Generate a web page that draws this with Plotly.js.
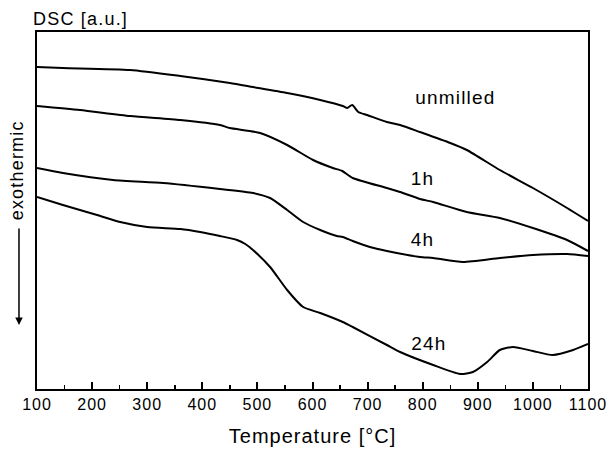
<!DOCTYPE html>
<html><head><meta charset="utf-8">
<script src="https://cdn.plot.ly/plotly-3.0.1.min.js"></script>
<style>body{margin:0;background:#fff}#c{width:610px;height:450px}
#c svg text{letter-spacing:1px}
#c .annotation-text{letter-spacing:1.2px}
</style>
</head><body><div id="c"></div>
<script>
// Temperature [°C] and DSC signal [a.u.]
var unmilledT = [100,147,269,360,450,492,554,614,655,663,672,683,699,735,759,795,850,880,940,1000,1062,1100];
var unmilledY = [322,321,319,313,306,302,296,289,283,281,284,277,274,267,264,257,246,239,219,201,181,168];
var h1T = [100,178,269,360,432,450,505,554,601,637,654,673,735,759,795,819,880,940,1000,1062,1100];
var h1Y = [283,279,273,269,264,261,256,244,229,221,218,211,201,197,190,187,177,171,161,149,138];
var h4T = [100,147,238,329,432,492,523,554,583,614,644,655,673,704,735,795,819,873,940,1000,1062,1100];
var h4Y = [221,216,209,206,200,196,191,179,167,159,153,152,148,142,138,132,131,127,131,134,135,133];
var h24T = [100,147,209,251,300,360,396,432,463,478,492,523,554,583,614,655,673,735,759,819,868,891,917,940,964,1000,1036,1073,1100];
var h24Y = [192,184,174,167,162,160,157,153,149,145,139,122,99,82,76,67,62,44,37,24,15,17,27,39,42,38,34,39,45];
var seriesNames = ['unmilled','1h','4h','24h'];
var labelT = [859,799,799,811];
var labelY = [292,211,150,46];
var xTicks = [100,200,300,400,500,600,700,800,900,1000,1100];

var font = 'Liberation Sans, Arial, sans-serif';
function tr(x,y,n){return {x:x,y:y,name:n,mode:'lines',type:'scatter',
  line:{color:'#000',width:2,shape:'spline',smoothing:0.6},hoverinfo:'skip'};}
var data = [tr(unmilledT,unmilledY,seriesNames[0]),tr(h1T,h1Y,seriesNames[1]),
            tr(h4T,h4Y,seriesNames[2]),tr(h24T,h24Y,seriesNames[3])];
var ann = seriesNames.map(function(n,i){return {x:labelT[i],y:labelY[i],xref:'x',yref:'y',
  text:n,showarrow:false,font:{family:font,size:19,color:'#000'}};});
ann.push({xref:'paper',yref:'paper',x:0,y:1,xanchor:'left',yanchor:'bottom',yshift:1,
  text:'DSC [a.u.]',showarrow:false,font:{family:font,size:18,color:'#000'}});
ann.push({xref:'paper',yref:'paper',x:-0.036,y:0.613,xanchor:'center',yanchor:'middle',textangle:-90,
  text:'exothermic',showarrow:false,font:{family:font,size:18,color:'#000'}});
ann.push({xref:'paper',yref:'paper',x:-0.0327,y:0.179,ax:0,ay:-98,text:'',showarrow:true,
  arrowhead:2,arrowsize:1,arrowwidth:1.5,arrowcolor:'#000'});
var layout = {
  width:610,height:450,margin:{l:37,r:22,t:32,b:61},
  paper_bgcolor:'#fff',plot_bgcolor:'#fff',showlegend:false,
  font:{family:font,color:'#000'},
  xaxis:{range:[100,1100],tickvals:xTicks,ticktext:xTicks.map(String),ticks:'inside',ticklen:7,tickwidth:2,
    tickcolor:'#000',showline:true,linewidth:2,linecolor:'#000',mirror:true,showgrid:false,zeroline:false,
    minor:{tickvals:[150,250,350,450,550,650,750,850,950,1050],ticks:'inside',ticklen:4,tickwidth:1.5,tickcolor:'#000'},
    tickfont:{family:font,size:16,color:'#000'},
    title:{text:'Temperature [°C]',font:{family:font,size:20,color:'#000'},standoff:17}},
  yaxis:{range:[0,357],showticklabels:false,ticks:'',showline:true,linewidth:2,linecolor:'#000',
    mirror:true,showgrid:false,zeroline:false},
  annotations:ann
};
Plotly.newPlot('c',data,layout,{staticPlot:true});
</script></body></html>
